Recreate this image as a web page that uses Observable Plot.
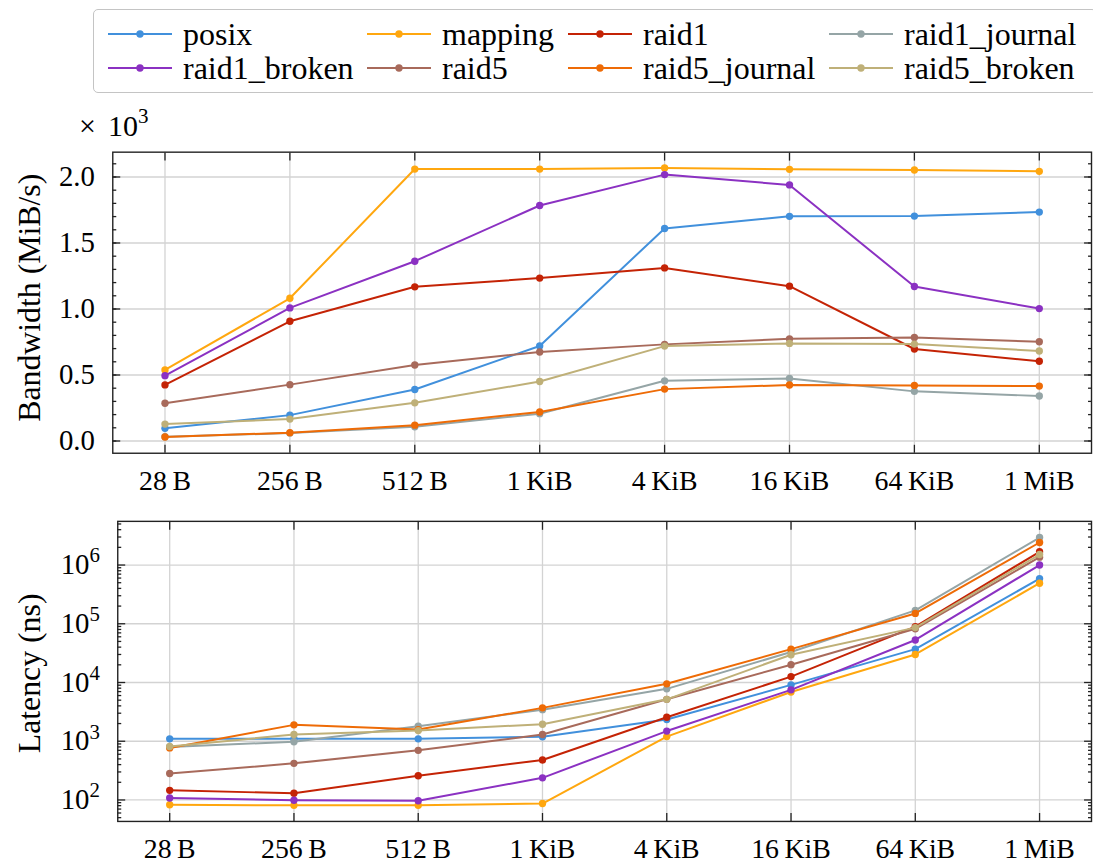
<!DOCTYPE html>
<html><head><meta charset="utf-8">
<script src="https://cdn.jsdelivr.net/npm/d3@7"></script>
<script src="https://cdn.jsdelivr.net/npm/@observablehq/plot@0.6"></script>
<style>
html,body{margin:0;padding:0;background:#fff;overflow:hidden;width:1093px;height:865px}
body{position:relative;font-family:"Liberation Serif",serif;color:#000}
#legend{position:absolute;left:93px;top:9px;width:1004px;height:84px;border:1.4px solid #c4c4c4;border-radius:5px;box-sizing:border-box}
.lg{position:absolute;font-size:32px;line-height:32px;white-space:nowrap}
.sw{position:absolute}
.plot{position:absolute;left:0}
#mult{position:absolute;left:79px;top:111px;font-size:30px;line-height:30px;white-space:nowrap}
#mult span{font-size:21px;position:relative;top:-0.6em}
</style></head><body>
<div id="legend"></div>
<div id="mult">×&#8201;&#8201;10<span>3</span></div>
<div id="topPlot" class="plot" style="top:100px"></div>
<div id="botPlot" class="plot" style="top:500px"></div>
<script>
// ---- data ----
const sizes = ["28\u2009B", "256\u2009B", "512\u2009B", "1\u2009KiB", "4\u2009KiB", "16\u2009KiB", "64\u2009KiB", "1\u2009MiB"];
const seriesNames = ["posix", "mapping", "raid1", "raid1_journal", "raid1_broken", "raid5", "raid5_journal", "raid5_broken"];
const seriesColors = ["#4190dc", "#ffa70f", "#c42305", "#95a5a6", "#8b31c2", "#a86a5b", "#ee6b06", "#bfb078"];

// Bandwidth in MiB/s
const bwPosix        = [96, 196, 390, 720, 1610, 1702, 1704, 1734];
const bwMapping      = [538, 1081, 2060, 2060, 2068, 2058, 2053, 2043];
const bwRaid1        = [425, 907, 1168, 1234, 1311, 1173, 697, 604];
const bwRaid1Journal = [32, 60, 108, 207, 456, 474, 376, 341];
const bwRaid1Broken  = [495, 1008, 1362, 1784, 2018, 1940, 1170, 1003];
const bwRaid5        = [286, 427, 576, 674, 732, 774, 784, 752];
const bwRaid5Journal = [30, 63, 120, 220, 393, 424, 421, 416];
const bwRaid5Broken  = [128, 166, 289, 451, 719, 739, 734, 682];

// Latency in ns
const latPosix        = [1100, 1100, 1100, 1190, 2340, 9100, 37000, 587000];
const latMapping      = [83, 81, 81, 87, 1200, 6900, 30000, 490000];
const latRaid1        = [146, 130, 258, 480, 2560, 12600, 89500, 1680000];
const latRaid1Journal = [800, 980, 1800, 3450, 7800, 33000, 169000, 2940000];
const latRaid1Broken  = [108, 99, 97, 238, 1490, 7500, 53000, 1000000];
const latRaid5        = [282, 420, 700, 1300, 5170, 20100, 82000, 1360000];
const latRaid5Journal = [770, 1900, 1580, 3700, 9500, 37000, 150000, 2420000];
const latRaid5Broken  = [815, 1300, 1520, 1950, 5170, 29700, 86000, 1510000];

const bwTicks = [0, 500, 1000, 1500, 2000];
const latTicks = [1e2, 1e3, 1e4, 1e5, 1e6];
const yLabelTop = "Bandwidth (MiB/s)";
const yLabelBot = "Latency (ns)";

// ---- tables ----
const bwSeries = [bwPosix, bwMapping, bwRaid1, bwRaid1Journal, bwRaid1Broken, bwRaid5, bwRaid5Journal, bwRaid5Broken];
const latSeries = [latPosix, latMapping, latRaid1, latRaid1Journal, latRaid1Broken, latRaid5, latRaid5Journal, latRaid5Broken];
const idx = d3.range(sizes.length);
function rows(series) {
  return seriesNames.map((s, k) => series[k].map((v, i) => ({s, i, v})));
}
const bwRows = rows(bwSeries);
const latRows = rows(latSeries);

const gridStyle = {stroke: "#d3d3d3", strokeOpacity: 1, strokeWidth: 1.3};
const tickStyle = {stroke: "#222", strokeWidth: 1.3, fill: "none", label: null};

function seriesMarks(data) {
  const m = [];
  for (const d of data) {
    m.push(Plot.line(d, {x: "i", y: "v", stroke: "s", strokeWidth: 2}));
    m.push(Plot.dot(d, {x: "i", y: "v", fill: "s", r: 3.7}));
  }
  return m;
}

const common = {
  width: 1100,
  marginRight: 2,
  x: {type: "linear", domain: [-0.418, 7.418], axis: null},
  color: {domain: seriesNames, range: seriesColors},
  style: {fontFamily: "Liberation Serif", fontSize: "28px", background: "transparent", color: "#000", overflow: "visible"}
};

// ---- top plot ----
const bwMinor = d3.range(0, 2200, 100);
const topChart = Plot.plot({
  ...common,
  height: 400, marginTop: 52, marginBottom: 45, marginLeft: 113,
  y: {domain: [-92.7, 2188], axis: null},
  marks: [
    Plot.gridX(idx, gridStyle),
    Plot.gridY(bwTicks, gridStyle),
    ...seriesMarks(bwRows),
    Plot.axisX(idx, {tickFormat: i => sizes[i], tickSize: 0, tickPadding: 17, label: null}),
    Plot.axisX(idx, {anchor: "bottom", tickSize: -8, ...tickStyle}),
    Plot.axisX(idx, {anchor: "top", tickSize: -8, ...tickStyle}),
    Plot.axisY(bwTicks, {tickFormat: d => (d / 1000).toFixed(1), tickSize: 0, tickPadding: 18, fontSize: 29, label: null}),
    Plot.axisY(bwTicks, {anchor: "left", tickSize: -8, ...tickStyle}),
    Plot.axisY(bwMinor, {anchor: "left", tickSize: -4, ...tickStyle}),
    Plot.axisY(bwTicks, {anchor: "right", tickSize: -8, ...tickStyle}),
    Plot.axisY(bwMinor, {anchor: "right", tickSize: -4, ...tickStyle}),
    Plot.text([yLabelTop], {frameAnchor: "left", textAnchor: "middle", rotate: -90, dx: -84, dy: -5, fontSize: 32, lineAnchor: "middle"}),
    Plot.frame({stroke: "#222", strokeWidth: 1.4})
  ]
});
document.getElementById("topPlot").appendChild(topChart);

// ---- bottom plot ----
const latMinor = [];
for (let e = 1; e <= 6; e++) for (let m = 2; m <= 9; m++) latMinor.push(m * 10 ** e);
const latMinorIn = latMinor.filter(v => v > 43.1 && v < 5.54e6);
const supDigits = "⁰¹²³⁴⁵⁶⁷⁸⁹";
const botChart = Plot.plot({
  ...common,
  height: 365, marginTop: 21, marginBottom: 42, marginLeft: 118,
  y: {type: "log", domain: [43.1, 5.54e6], axis: null},
  marks: [
    Plot.gridX(idx, gridStyle),
    Plot.gridY(latTicks, gridStyle),
    ...seriesMarks(latRows),
    Plot.axisX(idx, {tickFormat: i => sizes[i], tickSize: 0, tickPadding: 17, label: null}),
    Plot.axisX(idx, {anchor: "bottom", tickSize: -8, ...tickStyle}),
    Plot.axisX(idx, {anchor: "top", tickSize: -8, ...tickStyle}),
    Plot.axisY(latTicks, {tickFormat: d => "10" + supDigits[Math.round(Math.log10(d))], tickSize: 0, tickPadding: 18, fontSize: 29, label: null}),
    Plot.axisY(latTicks, {anchor: "left", tickSize: -8, ...tickStyle}),
    Plot.axisY(latMinorIn, {anchor: "left", tickSize: -4, ...tickStyle}),
    Plot.axisY(latTicks, {anchor: "right", tickSize: -8, ...tickStyle}),
    Plot.axisY(latMinorIn, {anchor: "right", tickSize: -4, ...tickStyle}),
    Plot.text([yLabelBot], {frameAnchor: "left", textAnchor: "middle", rotate: -90, dx: -89, dy: 2, fontSize: 32, lineAnchor: "middle"}),
    Plot.frame({stroke: "#222", strokeWidth: 1.4})
  ]
});
document.getElementById("botPlot").appendChild(botChart);
// render superscripts as real tspans
botChart.querySelectorAll('g[aria-label="y-axis tick label"] text').forEach(t => {
  const s = t.textContent;
  const last = s.slice(-1);
  const k = supDigits.indexOf(last);
  if (k < 0) return;
  t.textContent = "";
  const ns = "http://www.w3.org/2000/svg";
  const a = document.createElementNS(ns, "tspan"); a.textContent = "10";
  const b = document.createElementNS(ns, "tspan"); b.textContent = String(k);
  b.setAttribute("font-size", "21"); b.setAttribute("dy", "-12");
  t.appendChild(a); t.appendChild(b);
});

// ---- legend ----
const legendHost = document.body;
const colX = [108, 367, 568, 829];
const textX = [183, 442, 643, 904];
const rowY = [34.3, 67.7];
seriesNames.forEach((name, k) => {
  const c = k % 4, r = Math.floor(k / 4);
  const sw = document.createElementNS("http://www.w3.org/2000/svg", "svg");
  sw.setAttribute("width", 64); sw.setAttribute("height", 10);
  sw.setAttribute("class", "sw");
  sw.style.left = colX[c] + "px"; sw.style.top = (rowY[r] - 5) + "px";
  sw.innerHTML = `<line x1="0" x2="64" y1="5" y2="5" stroke="${seriesColors[k]}" stroke-width="2"/><circle cx="32" cy="5" r="3.7" fill="${seriesColors[k]}"/>`;
  legendHost.appendChild(sw);
  const t = document.createElement("div");
  t.className = "lg"; t.textContent = name;
  t.style.left = textX[c] + "px"; t.style.top = (rowY[r] + 10.7 - 26.8) + "px";
  legendHost.appendChild(t);
});
</script>
</body></html>
